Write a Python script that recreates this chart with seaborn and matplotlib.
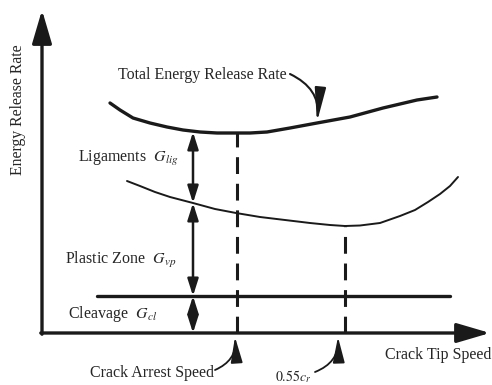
import matplotlib
matplotlib.use("Agg")
import matplotlib.pyplot as plt
import seaborn as sns
import pandas as pd

sns.set_theme(style="white")
plt.rcParams["font.family"] = ["Liberation Serif", "DejaVu Serif"]
plt.rcParams["mathtext.fontset"] = "stix"

# Total energy release rate vs crack tip speed
total_speed = [68, 78, 91, 108, 125, 141, 158, 175, 191, 208, 225, 248, 275, 308, 341, 375, 395]
total_rate = [230, 223, 215, 210, 206, 203, 201, 200, 200, 200, 201, 205, 210, 216, 225, 233, 236]

# Cleavage + plastic zone contribution
plastic_speed = [85, 98, 113, 128, 151, 173, 194, 218, 243, 268, 288, 303, 318, 338,
                 358, 373, 386, 398, 408, 416]
plastic_rate = [152, 147, 141, 136, 130, 124, 120, 116, 113, 110, 108, 107, 107.5, 110,
                117, 123, 131, 139, 147, 156]

# Cleavage contribution (constant)
cleavage_speed = [55, 408]
cleavage_rate = [37, 37]

# Marked speeds and where the dashed guides end
marker_labels = ["Crack Arrest Speed", "$0.55c_r$"]
marker_speed = [195, 303]
marker_top = [200, 107]

# Component breakdown at one speed
breakdown_speed = 151
breakdown_levels = [0, 37, 130, 201]

AX_X, AX_Y = 448, 323
INK = "#1a1a1a"

fig = plt.figure(figsize=(4.92, 3.85), dpi=100)
ax = fig.add_axes([42 / 492, 52 / 385, 448 / 492, 323 / 385])
ax.set_xlim(0, AX_X)
ax.set_ylim(0, AX_Y)
for s in ax.spines.values():
    s.set_visible(False)
ax.set_xticks([])
ax.set_yticks([])
ax.patch.set_alpha(0)

df_total = pd.DataFrame({"speed": total_speed, "rate": total_rate})
df_plastic = pd.DataFrame({"speed": plastic_speed, "rate": plastic_rate})
df_cl = pd.DataFrame({"speed": cleavage_speed, "rate": cleavage_rate})
sns.lineplot(data=df_total, x="speed", y="rate", ax=ax, color=INK, lw=2.4, sort=False)
sns.lineplot(data=df_plastic, x="speed", y="rate", ax=ax, color=INK, lw=1.4, sort=False)
sns.lineplot(data=df_cl, x="speed", y="rate", ax=ax, color=INK, lw=2.4, sort=False)
ax.set_xlabel("")
ax.set_ylabel("")

# Dashed guides at the marked speeds
for sx, top in zip(marker_speed, marker_top):
    ax.plot([sx, sx], [0, top], color=INK, lw=2.2, dashes=(5.5, 3.2))

# Axes with arrowheads
ax.annotate("", xy=(0, AX_Y), xytext=(0, -1.2), annotation_clip=False,
            arrowprops=dict(arrowstyle="-|>,head_length=1.7,head_width=0.5",
                            lw=2.4, color=INK, shrinkA=0, shrinkB=0))
ax.annotate("", xy=(AX_X, 0), xytext=(-1.2, 0), annotation_clip=False,
            arrowprops=dict(arrowstyle="-|>,head_length=1.7,head_width=0.5",
                            lw=2.4, color=INK, shrinkA=0, shrinkB=0))

# Double arrows showing each component
for lo, hi in zip(breakdown_levels[:-1], breakdown_levels[1:]):
    ax.annotate("", xy=(breakdown_speed, hi), xytext=(breakdown_speed, lo),
                arrowprops=dict(arrowstyle="<|-|>,head_length=0.85,head_width=0.27",
                                lw=1.8, color=INK, shrinkA=0, shrinkB=0))

fs = 11.5
ax.text(-24, 223, "Energy Release Rate", rotation=90, ha="center", va="center",
        fontsize=11.3, clip_on=False)
ax.text(76, 258, "Total Energy Release Rate", ha="left", va="center", fontsize=fs)
ax.text(36, 175, "Ligaments  $G_{lig}$", ha="left", va="center", fontsize=fs)
ax.text(23, 73, "Plastic Zone  $G_{vp}$", ha="left", va="center", fontsize=fs)
ax.text(26, 19, "Cleavage  $G_{cl}$", ha="left", va="center", fontsize=fs)
ax.text(343, -22, "Crack Tip Speed", ha="left", va="center", fontsize=fs, clip_on=False)

# Label pointing to the total curve
ax.annotate("", xy=(275, 211), xytext=(248, 259),
            arrowprops=dict(arrowstyle="-|>,head_length=1.7,head_width=0.28", lw=1.5,
                            color=INK, connectionstyle="arc3,rad=-0.35",
                            shrinkA=0, shrinkB=0))

# Labels under the marked speeds
label_pos = [(48, -40), (233, -44)]
label_size = [fs, 10]
label_tail = [(173, -37), (273, -39)]
label_tip = [(193, -4), (296, -4)]
for lab, (lx, ly), size, tail, tip in zip(marker_labels, label_pos, label_size,
                                          label_tail, label_tip):
    ax.text(lx, ly, lab, ha="left", va="center", fontsize=size, clip_on=False)
    ax.annotate("", xy=tip, xytext=tail, annotation_clip=False,
                arrowprops=dict(arrowstyle="-|>,head_length=1.3,head_width=0.3", lw=1.3,
                                color=INK, connectionstyle="arc3,rad=0.35",
                                shrinkA=0, shrinkB=0))

fig.savefig("out.png", dpi=100)
